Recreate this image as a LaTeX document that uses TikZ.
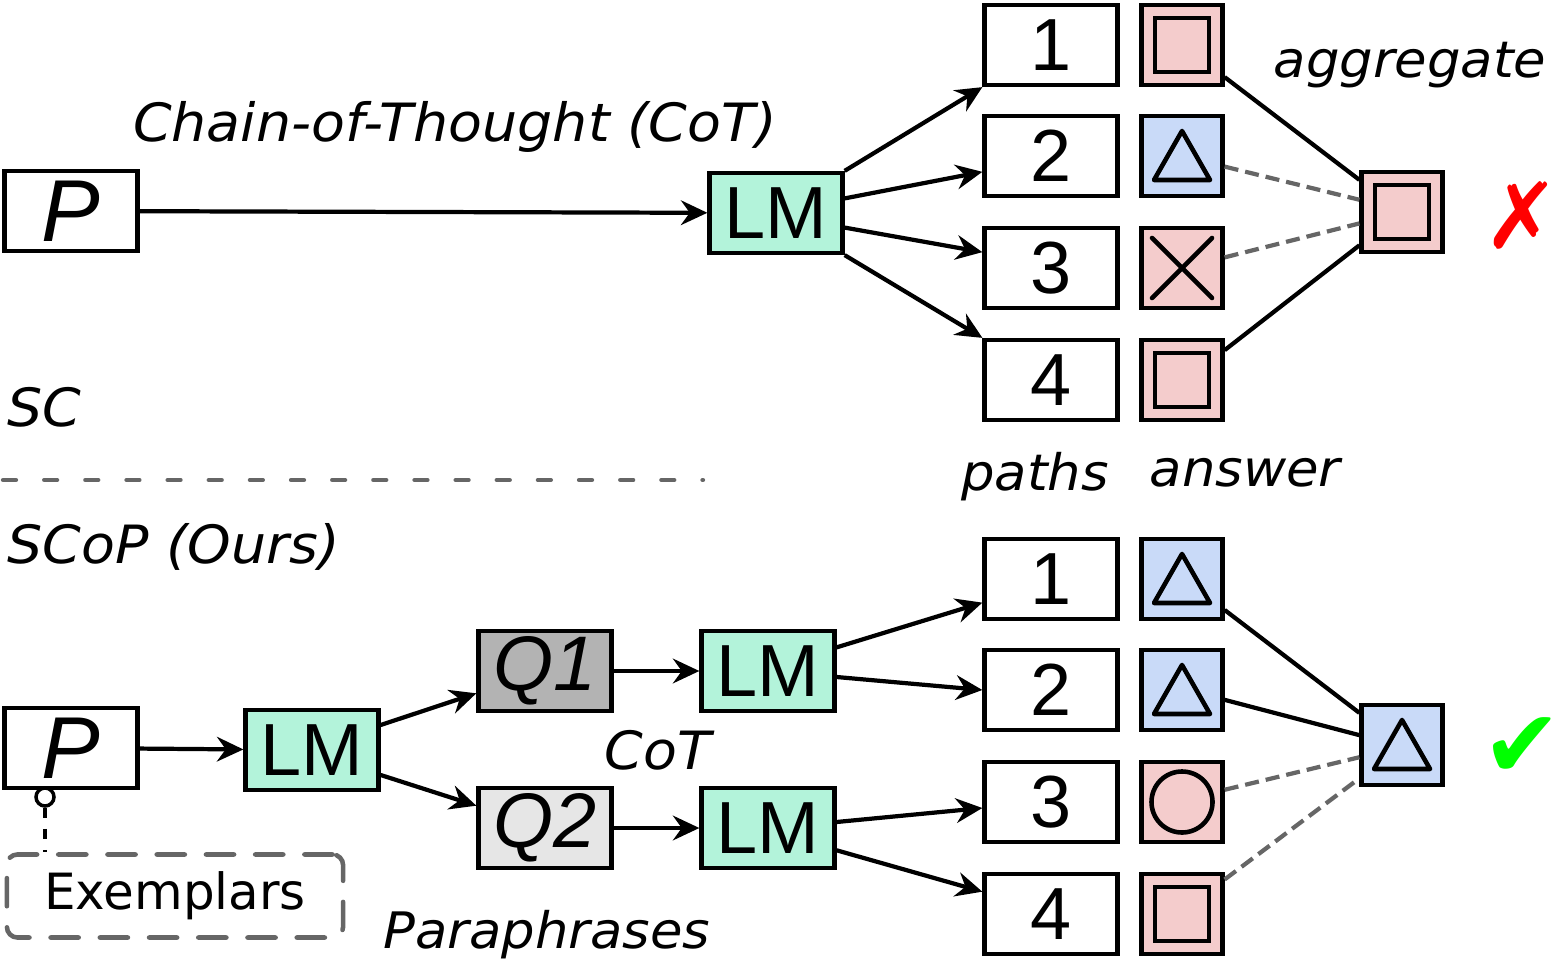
\documentclass[tikz,border=0pt]{standalone}
\usepackage{fontspec}
\setmainfont{DejaVu Sans}
\newfontfamily\arialfont{Liberation Sans}
\newfontfamily\labelfont{DejaVu Sans}[FakeStretch=1.05]
\usetikzlibrary{arrows.meta}
\definecolor{lmgreen}{HTML}{B3F3DA}
\definecolor{pinkc}{HTML}{F4CCCC}
\definecolor{bluec}{HTML}{C9DAF8}
\definecolor{qdark}{HTML}{B3B3B3}
\definecolor{qlight}{HTML}{E6E6E6}
\definecolor{dashgray}{HTML}{666666}
\tikzset{
	box/.style={draw, line width=1.2pt, minimum width=1.33cm, minimum height=0.8cm, inner sep=0pt, font=\arialfont\fontsize{21}{24}\selectfont},
	lmbox/.style={box, fill=lmgreen},
	ansbox/.style={draw, line width=1.2pt, minimum width=0.81cm, minimum height=0.8cm, inner sep=0pt},
	arr/.style={-{Stealth[length=7.5pt,width=7pt,inset=2.5pt]}, line width=1.2pt},
	vote/.style={line width=1.2pt},
	novote/.style={line width=1.2pt, draw=dashgray, dash pattern=on 4pt off 2pt},
	lbl/.style={font=\labelfont\itshape\fontsize{15}{18}\selectfont},
	lbls/.style={font=\labelfont\itshape\fontsize{14.3}{17}\selectfont},
	sqmark/.pic={\draw[line width=1.3pt] (-27,-27) rectangle (27,27);},
	trimark/.pic={\draw[line width=1.3pt, line join=round] (-28,24) -- (28,24) -- (0,-25) -- cycle;},
	crossmark/.pic={\draw[line width=1.3pt, line cap=round] (-30,-30) -- (30,30) (-30,30) -- (30,-30);},
	circmark/.pic={\draw[line width=1.3pt] (0,0) circle (0.305cm);},
}

\begin{document}
\begin{tikzpicture}[x=0.01cm, y=-0.01cm]
		\useasboundingbox (0,0) rectangle (1558,964);
		% SC
		\node[box, font=\arialfont\itshape\fontsize{25}{28}\selectfont] (P) at (71,211) {P};
		\node[lmbox] (LM) at (776,213) {LM};
		\node[box] (p1) at (1051,45) {1};
		\node[box] (p2) at (1051,156) {2};
		\node[box] (p3) at (1051,268) {3};
		\node[box] (p4) at (1051,380) {4};
		\node[ansbox, fill=pinkc] (a1) at (1182,45) {};
		\node[ansbox, fill=bluec] (a2) at (1182,156) {};
		\node[ansbox, fill=pinkc] (a3) at (1182,268) {};
		\node[ansbox, fill=pinkc] (a4) at (1182,380) {};
		\node[ansbox, fill=pinkc] (agg) at (1402,212) {};
		\pic at (a1) {sqmark};
		\pic at (a2) {trimark};
		\pic at (a3) {crossmark};
		\pic at (a4) {sqmark};
		\pic at (agg) {sqmark};
		\draw[arr] (P) -- (LM);
		\draw[arr] (LM.north east) -- (p1.south west);
		\draw[arr] (LM.12) -- (p2.193);
		\draw[arr] (LM.-12) -- (p3.167);
		\draw[arr] (LM.south east) -- (p4.north west);
		\draw[vote] (a1.-37) -- (agg.143);
		\draw[novote] (a2.-14) -- (agg.164);
		\draw[novote] (a3.14) -- (agg.195);
		\draw[vote] (a4.35) -- (agg.218);
		\node[lbl] (cot) at (455,127) {Chain-of-Thought (CoT)};
		\node[lbls] (aggr) at (1410,65) {aggregate};
		\node[text=red, font=\fontsize{26}{26}\selectfont] (wrong) at (1522,215) {✗};
		\node[lbl, anchor=west] (sc) at (-5,407) {SC};
		% separator
		\draw[dashgray, line width=1.2pt, line cap=round, dash pattern=on 3.7pt off 8pt] (3,480) -- (703,480);
		\node[lbls] (paths) at (1035,477) {paths};
		\node[lbls] (answer) at (1245,473) {answer};
		\node[lbl, anchor=west] (scop) at (-5,547) {SCoP (Ours)};
		% SCoP
		\node[box, font=\arialfont\itshape\fontsize{25}{28}\selectfont] (Pb) at (71,748) {P};
		\node[lmbox] (LMb) at (312,750) {LM};
		\node[box, fill=qdark, font=\arialfont\itshape\fontsize{22}{24}\selectfont] (Q1) at (545,671) {Q1};
		\node[box, fill=qlight, font=\arialfont\itshape\fontsize{22}{24}\selectfont] (Q2) at (545,828) {Q2};
		\node[lmbox] (LMq1) at (768,671) {LM};
		\node[lmbox] (LMq2) at (768,828) {LM};
		\node[box] (pb1) at (1051,579) {1};
		\node[box] (pb2) at (1051,690) {2};
		\node[box] (pb3) at (1051,802) {3};
		\node[box] (pb4) at (1051,914) {4};
		\node[ansbox, fill=bluec] (ab1) at (1182,579) {};
		\node[ansbox, fill=bluec] (ab2) at (1182,690) {};
		\node[ansbox, fill=pinkc] (ab3) at (1182,802) {};
		\node[ansbox, fill=pinkc] (ab4) at (1182,914) {};
		\node[ansbox, fill=bluec] (aggb) at (1402,745) {};
		\pic at (ab1) {trimark};
		\pic at (ab2) {trimark};
		\pic at (ab3) {circmark};
		\pic at (ab4) {sqmark};
		\pic at (aggb) {trimark};
		\draw[arr] (Pb) -- (LMb);
		\draw[arr] (LMb.20) -- (Q1.198);
		\draw[arr] (LMb.-20) -- (Q2.162);
		\draw[arr] (Q1) -- (LMq1);
		\draw[arr] (Q2) -- (LMq2);
		\draw[arr] (LMq1.19) -- (pb1.199);
		\draw[arr] (LMq1.-5) -- (pb2.180);
		\draw[arr] (LMq2.5) -- (pb3.185);
		\draw[arr] (LMq2.-18) -- (pb4.162);
		\draw[vote] (ab1.-36) -- (aggb.143);
		\draw[vote] (ab2.-13) -- (aggb.167);
		\draw[novote] (ab3.16) -- (aggb.196);
		\draw[novote] (ab4.39) -- (aggb.218);
		\node[text=green, font=\fontsize{27}{27}\selectfont] (right) at (1522,748) {✔};
		\node[lbl] (cotb) at (658,750) {CoT};
		\node[lbls] (para) at (547,935) {Paraphrases};
		% exemplars
		\node[draw=dashgray, line width=1.3pt, line cap=round, dash pattern=on 8pt off 6pt, rounded corners=3pt, minimum width=3.36cm, minimum height=0.83cm, font=\fontsize{14.2}{16}\selectfont] (ex) at (175,896) {Exemplars};
		\node[circle, draw, fill=white, line width=1pt, minimum size=0.18cm, inner sep=0pt] (hook) at (45,797) {};
		\draw[line width=1pt, dash pattern=on 3pt off 3pt] (hook) -- (hook |- ex.north);
	\end{tikzpicture}
\end{document}
